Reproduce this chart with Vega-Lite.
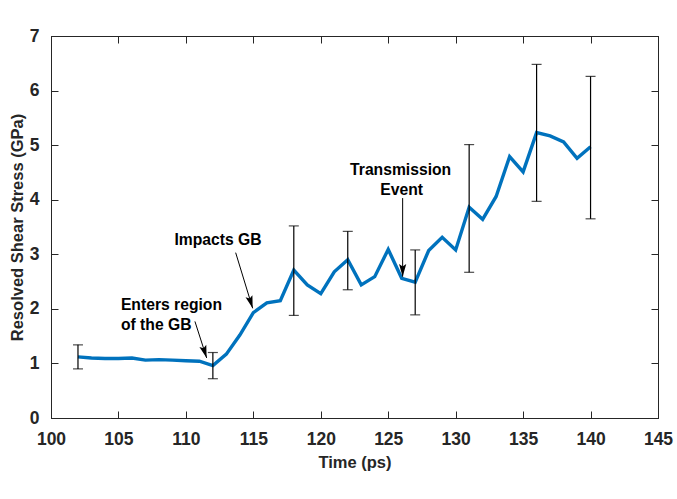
{
  "$schema": "https://vega.github.io/schema/vega-lite/v6.json",
  "width": 607,
  "height": 382,
  "autosize": {"type": "none"},
  "padding": {"left": 51, "top": 36, "right": 19, "bottom": 81},
  "background": "white",
  "config": {
    "view": {"stroke": "#262626", "strokeWidth": 1},
    "font": "Liberation Sans",
    "axis": {
      "grid": false,
      "labelFont": "Liberation Sans",
      "labelFontWeight": "bold",
      "labelFontSize": 17.5,
      "labelColor": "#262626",
      "labelFlush": false,
      "labelOverlap": false,
      "titleFont": "Liberation Sans",
      "titleFontWeight": "bold",
      "titleFontSize": 16.5,
      "titleColor": "#262626",
      "domainColor": "#262626",
      "tickColor": "#262626",
      "tickSize": -7,
      "labelPadding": 19
    }
  },
  "datasets": {
    "stress": [
      {"t": 102, "v": 1.12}, {"t": 103, "v": 1.10}, {"t": 104, "v": 1.09}, {"t": 105, "v": 1.09},
      {"t": 106, "v": 1.10}, {"t": 107, "v": 1.06}, {"t": 108, "v": 1.07}, {"t": 109, "v": 1.06},
      {"t": 110, "v": 1.05}, {"t": 111, "v": 1.04}, {"t": 112, "v": 0.96}, {"t": 113, "v": 1.17},
      {"t": 114, "v": 1.52}, {"t": 115, "v": 1.93}, {"t": 116, "v": 2.11}, {"t": 117, "v": 2.15},
      {"t": 118, "v": 2.71}, {"t": 119, "v": 2.44}, {"t": 120, "v": 2.28}, {"t": 121, "v": 2.68},
      {"t": 122, "v": 2.90}, {"t": 123, "v": 2.44}, {"t": 124, "v": 2.59}, {"t": 125, "v": 3.09},
      {"t": 126, "v": 2.56}, {"t": 127, "v": 2.49}, {"t": 128, "v": 3.07}, {"t": 129, "v": 3.31},
      {"t": 130, "v": 3.08}, {"t": 131, "v": 3.86}, {"t": 132, "v": 3.64}, {"t": 133, "v": 4.06},
      {"t": 134, "v": 4.79}, {"t": 135, "v": 4.51}, {"t": 136, "v": 5.23}, {"t": 137, "v": 5.17},
      {"t": 138, "v": 5.06}, {"t": 139, "v": 4.76}, {"t": 140, "v": 4.97}
    ],
    "errors": [
      {"t": 102, "lo": 0.90, "hi": 1.34},
      {"t": 112, "lo": 0.72, "hi": 1.20},
      {"t": 118, "lo": 1.88, "hi": 3.52},
      {"t": 122, "lo": 2.35, "hi": 3.42},
      {"t": 127, "lo": 1.89, "hi": 3.08},
      {"t": 131, "lo": 2.67, "hi": 5.01},
      {"t": 136, "lo": 3.97, "hi": 6.48},
      {"t": 140, "lo": 3.65, "hi": 6.26}
    ],
    "arrows": [
      {"name": "enters", "x": 110.67, "y": 1.77, "x2": 111.54, "y2": 1.10},
      {"name": "impacts", "x": 113.69, "y": 3.03, "x2": 114.95, "y2": 2.01},
      {"name": "transmission", "x": 126.07, "y": 4.03, "x2": 126.07, "y2": 2.59}
    ],
    "notes": [
      {"x": 108.93, "y": 1.98, "label": "Enters region"},
      {"x": 107.8, "y": 1.61, "label": "of the GB"},
      {"x": 112.38, "y": 3.17, "label": "Impacts GB"},
      {"x": 125.92, "y": 4.46, "label": "Transmission"},
      {"x": 126.0, "y": 4.08, "label": "Event"}
    ]
  },
  "layer": [
    {
      "data": {"name": "stress"},
      "mark": {"type": "line", "color": "#0072BD", "strokeWidth": 3.4, "strokeJoin": "miter"},
      "encoding": {
        "x": {"field": "t", "type": "quantitative",
              "scale": {"domain": [100, 145], "nice": false, "zero": false},
              "axis": {"orient": "bottom", "title": "Time (ps)", "titlePadding": 7, "values": [100, 105, 110, 115, 120, 125, 130, 135, 140, 145]}},
        "y": {"field": "v", "type": "quantitative",
              "scale": {"domain": [0, 7], "nice": false, "zero": false},
              "axis": {"orient": "left", "title": "Resolved Shear Stress (GPa)", "values": [0, 1, 2, 3, 4, 5, 6, 7]}}
      }
    },
    {
      "data": {"name": "errors"},
      "mark": {"type": "errorbar", "ticks": {"size": 10, "thickness": 1.2, "color": "black"}, "rule": {"strokeWidth": 1.2, "color": "black"}, "color": "black"},
      "encoding": {
        "x": {"field": "t", "type": "quantitative",
              "axis": {"orient": "top", "title": null, "labels": false, "values": [100, 105, 110, 115, 120, 125, 130, 135, 140, 145]}},
        "y": {"field": "lo", "type": "quantitative",
              "axis": {"orient": "right", "title": null, "labels": false, "values": [0, 1, 2, 3, 4, 5, 6, 7]}},
        "y2": {"field": "hi"}
      }
    },
    {
      "data": {"name": "arrows"},
      "mark": {"type": "rule", "color": "black", "strokeWidth": 1},
      "encoding": {
        "x": {"field": "x", "type": "quantitative", "axis": null},
        "y": {"field": "y", "type": "quantitative", "axis": null},
        "x2": {"field": "x2"},
        "y2": {"field": "y2"}
      }
    },
    {
      "data": {"name": "arrows"},
      "transform": [{"filter": "datum.name === 'enters'"}],
      "mark": {"type": "point", "shape": "M0,0L-0.6,-2.1L0,-1.7L0.6,-2.1Z", "size": 144, "filled": true, "color": "black", "opacity": 1, "angle": 342.3},
      "encoding": {
        "x": {"field": "x2", "type": "quantitative", "axis": null},
        "y": {"field": "y2", "type": "quantitative", "axis": null}
      }
    },
    {
      "data": {"name": "arrows"},
      "transform": [{"filter": "datum.name === 'impacts'"}],
      "mark": {"type": "point", "shape": "M0,0L-0.6,-2.1L0,-1.7L0.6,-2.1Z", "size": 144, "filled": true, "color": "black", "opacity": 1, "angle": 343},
      "encoding": {
        "x": {"field": "x2", "type": "quantitative", "axis": null},
        "y": {"field": "y2", "type": "quantitative", "axis": null}
      }
    },
    {
      "data": {"name": "arrows"},
      "transform": [{"filter": "datum.name === 'transmission'"}],
      "mark": {"type": "point", "shape": "M0,0L-0.6,-2.1L0,-1.7L0.6,-2.1Z", "size": 144, "filled": true, "color": "black", "opacity": 1, "angle": 0},
      "encoding": {
        "x": {"field": "x2", "type": "quantitative", "axis": null},
        "y": {"field": "y2", "type": "quantitative", "axis": null}
      }
    },
    {
      "data": {"name": "notes"},
      "mark": {"type": "text", "font": "Liberation Sans", "fontWeight": "bold", "fontSize": 15.7, "color": "black", "align": "center", "baseline": "alphabetic"},
      "encoding": {
        "x": {"field": "x", "type": "quantitative", "axis": null},
        "y": {"field": "y", "type": "quantitative", "axis": null},
        "text": {"field": "label"}
      }
    }
  ],
  "resolve": {"axis": {"x": "independent", "y": "independent"}}
}
